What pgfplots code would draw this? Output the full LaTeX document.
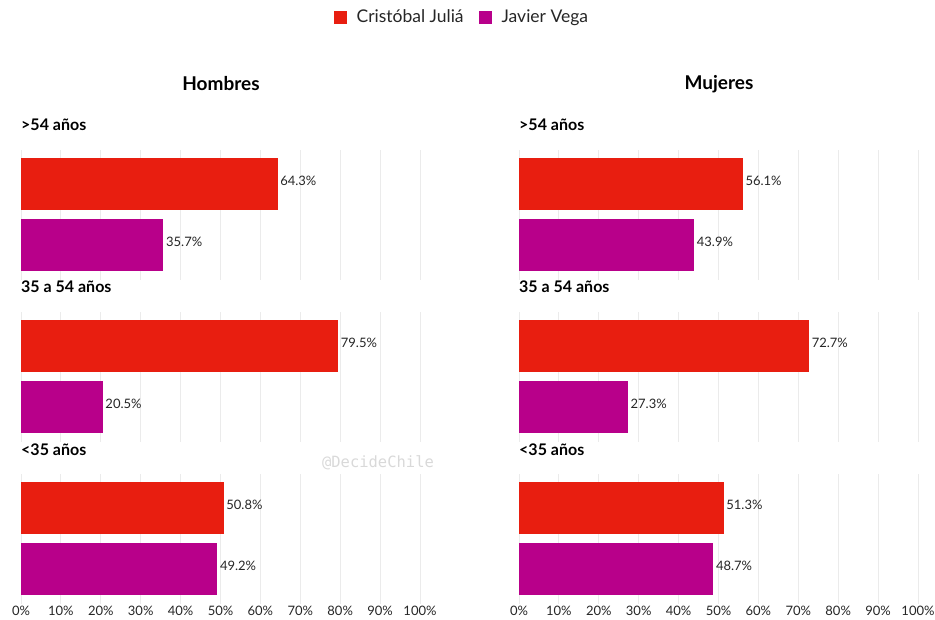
\documentclass[border=0pt]{standalone}
\usepackage{pgfplots}
\pgfplotsset{compat=1.18}
\usepackage{fontspec}
\setmainfont{Lato}
\newfontfamily\wmfont{DejaVu Sans Mono}
\definecolor{jred}{HTML}{E81E10}
\definecolor{jmag}{HTML}{B8008A}
\definecolor{gridc}{HTML}{EBEBEB}
\pgfplotsset{
 grp/.style={
  anchor=north west, scale only axis, width=399pt, height=130pt,
  xmin=0, xmax=100, ymin=-0.56, ymax=1.57, y dir=reverse,
  xbar, bar width=52pt, bar shift=0pt,
  xtick={0,10,...,100}, xmajorgrids, grid style={gridc, line width=1pt},
  ytick=\empty, axis line style={draw=none}, major tick length=0pt,
  xticklabels={},
  /pgf/number format/assume math mode=true,
  point meta=x,
  nodes near coords={\pgfmathprintnumber[fixed,fixed zerofill,precision=1]{\pgfplotspointmeta}\%},
  every node near coord/.append style={font=\fontsize{13}{13}\selectfont, text=black!85, inner sep=2.5pt, anchor=west, yshift=3pt},
  clip=false,
 },
 lastgrp/.style={xticklabel={\pgfmathprintnumber{\tick}\%},
   xticklabel style={font=\fontsize{13}{13}\selectfont, text=black!85, yshift=1pt}},
 rbar/.style={fill=jred, draw=none, legend image code/.code={\fill[jred] (0pt,-6.5pt) rectangle (13pt,6.5pt);}},
 mbar/.style={fill=jmag, draw=none, legend image code/.code={\fill[jmag] (0pt,-6.5pt) rectangle (13pt,6.5pt);}},
}
\begin{document}
\begin{tikzpicture}
\path[use as bounding box] (0pt,0pt) rectangle (935pt,619pt);
% titles
\node[font=\bfseries\fontsize{19}{19}\selectfont] at (221pt,535pt) {Hombres};
\node[font=\bfseries\fontsize{19}{19}\selectfont] at (719pt,535pt) {Mujeres};
% group labels
\foreach \xx in {21pt,519pt}{
\node[font=\bfseries\fontsize{16}{16}\selectfont, anchor=west, inner sep=0pt] at (\xx,494pt) {>54 años};
\node[font=\bfseries\fontsize{16}{16}\selectfont, anchor=west, inner sep=0pt] at (\xx,332pt) {35 a 54 años};
\node[font=\bfseries\fontsize{16}{16}\selectfont, anchor=west, inner sep=0pt] at (\xx,169pt) {<35 años};
}
% Hombres
\begin{axis}[grp, at={(21pt,469pt)},
  legend columns=2,
  legend style={at={(axis description cs:1.105,2.023)}, anchor=center, draw=none,
    font=\fontsize{17.5}{17.5}\selectfont, text=black!85,
    /tikz/every odd column/.append style={column sep=8pt},
    /tikz/every even column/.append style={column sep=13pt}}]
\addplot[rbar] coordinates {(64.3,0)};
\addplot[mbar] coordinates {(35.7,1)};
\legend{Cristóbal Juliá, Javier Vega}
\end{axis}
\begin{axis}[grp, at={(21pt,307pt)}]
\addplot[rbar] coordinates {(79.5,0)};
\addplot[mbar] coordinates {(20.5,1)};
\end{axis}
\begin{axis}[grp, lastgrp, at={(21pt,145pt)}]
\addplot[rbar] coordinates {(50.8,0)};
\addplot[mbar] coordinates {(49.2,1)};
\end{axis}
% Mujeres
\begin{axis}[grp, at={(519pt,469pt)}]
\addplot[rbar] coordinates {(56.1,0)};
\addplot[mbar] coordinates {(43.9,1)};
\end{axis}
\begin{axis}[grp, at={(519pt,307pt)}]
\addplot[rbar] coordinates {(72.7,0)};
\addplot[mbar] coordinates {(27.3,1)};
\end{axis}
\begin{axis}[grp, lastgrp, at={(519pt,145pt)}]
\addplot[rbar] coordinates {(51.3,0)};
\addplot[mbar] coordinates {(48.7,1)};
\end{axis}
\node[font=\wmfont\fontsize{15.5}{15.5}\selectfont, text=black!15] at (378pt,156pt) {@DecideChile};
\end{tikzpicture}
\end{document}
